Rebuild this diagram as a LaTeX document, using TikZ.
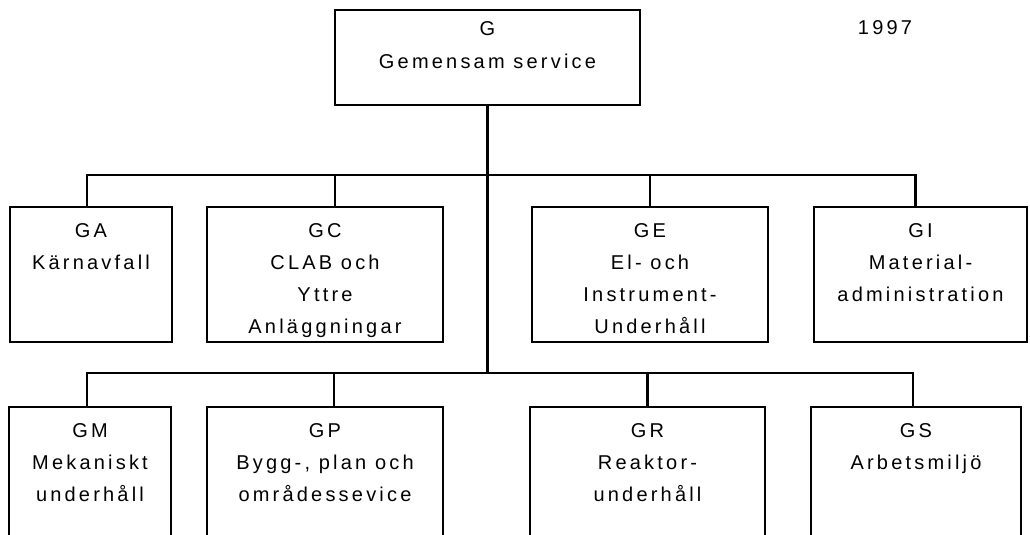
\documentclass[tikz,border=0pt]{standalone}
\usepackage{fontspec}
\setmainfont{Liberation Sans}[LetterSpace=16]
\begin{document}
\begin{tikzpicture}[x=1pt,y=-1pt,
  unit/.style={draw, line width=2.6pt, rectangle, inner sep=0pt, minimum height=135pt},
  tall/.style={unit, minimum height=145pt},
  caption/.style={anchor=north, inner sep=0pt, align=center,
    font=\fontsize{20}{32}\selectfont, yshift=-18pt},
  link/.style={line width=2.8pt}]
\useasboundingbox (0,0) rectangle (1030,535);
\clip (0,0) rectangle (1030,535);

% head of the department
\node[unit, minimum width=305pt, minimum height=95pt,
  label={[caption, yshift=5pt, font=\fontsize{20}{33}\selectfont]north:G\\Gemensam service}]
  (G) at (487.5,57.5) {};
\node[inner sep=0pt, font=\fontsize{20}{20}\selectfont] (year) at (885,28) {1997};

% first row of units
\node[unit, minimum width=162pt, label={[caption]north:GA\\Kärnavfall}] (GA) at (91,274.5) {};
\node[unit, minimum width=236pt, label={[caption]north:GC\\CLAB och\\Yttre\\Anläggningar}] (GC) at (325,274.5) {};
\node[unit, minimum width=236pt, label={[caption]north:GE\\El- och\\Instrument-\\Underhåll}] (GE) at (650,274.5) {};
\node[unit, minimum width=213pt, label={[caption]north:GI\\Material-\\administration}] (GI) at (920.5,274.5) {};

% second row of units, running past the lower edge
\node[tall, minimum width=162pt, label={[caption]north:GM\\Mekaniskt\\underhåll}] (GM) at (90,479.5) {};
\node[tall, minimum width=236pt, label={[caption]north:GP\\Bygg-, plan och\\områdessevice}] (GP) at (325,479.5) {};
\node[tall, minimum width=235pt, label={[caption]north:GR\\Reaktor-\\underhåll}] (GR) at (647.5,479.5) {};
\node[tall, minimum width=210pt, label={[caption]north:GS\\Arbetsmiljö}] (GS) at (916,479.5) {};

% bus lines
\coordinate (bus1) at (487.5,175);
\coordinate (bus2) at (487.5,373);
\draw[link] (G.south) -- (bus2);
\draw[link] ([xshift=-4pt]GA.north) |- (bus1);
\draw[link] ([xshift=10pt]GC.north) |- (bus1);
\draw[link] (GE.north) |- (bus1);
\draw[link] ([xshift=-5pt]GI.north) |- (bus1);
\draw[link] ([xshift=-3pt]GM.north) |- (bus2);
\draw[link] ([xshift=9pt]GP.north) |- (bus2);
\draw[link] (GR.north) |- (bus2);
\draw[link] ([xshift=-3pt]GS.north) |- (bus2);
\end{tikzpicture}
\end{document}
